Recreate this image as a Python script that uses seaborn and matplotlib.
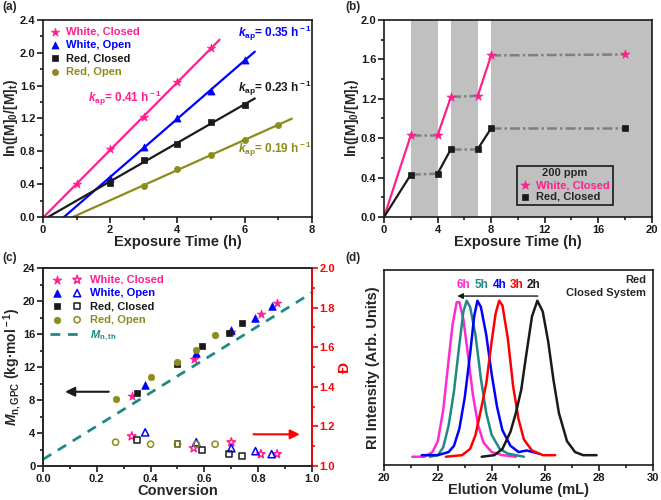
import numpy as np
import matplotlib
matplotlib.use("Agg")
import matplotlib.pyplot as plt
import seaborn as sns
from matplotlib.legend_handler import HandlerTuple
from matplotlib.ticker import MultipleLocator

# ---- (a) first-order kinetics ----
t_wc = [1, 2, 3, 4, 5]
y_wc = [0.40, 0.83, 1.22, 1.64, 2.06]
t_wo = [2, 3, 4, 5, 6]
y_wo = [0.48, 0.85, 1.21, 1.54, 1.91]
t_rc = [2, 3, 4, 5, 6]
y_rc = [0.42, 0.69, 0.89, 1.16, 1.36]
t_ro = [3, 4, 5, 6, 7]
y_ro = [0.38, 0.58, 0.76, 0.94, 1.12]
k_ap = ["0.41", "0.35", "0.23", "0.19"]
fit_end = [5.25, 6.3, 6.3, 7.4]

# ---- (b) light on/off ----
t_b = [0, 2, 4, 5, 7, 8, 18]
y_b_white = [0.0, 0.83, 0.83, 1.22, 1.23, 1.64, 1.65]
y_b_red = [0.0, 0.43, 0.44, 0.69, 0.69, 0.90, 0.90]
dark_periods = [(2, 4), (5, 7), (8, 20)]

# ---- (c) Mn and dispersity vs conversion ----
conv_wc = [0.33, 0.56, 0.70, 0.81, 0.87]
mn_wc = [8.5, 13.0, 16.3, 18.4, 19.8]
d_wc = [1.15, 1.09, 1.12, 1.06, 1.06]
conv_wo = [0.38, 0.57, 0.70, 0.79, 0.85]
mn_wo = [9.8, 13.7, 16.5, 17.9, 19.4]
d_wo = [1.17, 1.12, 1.09, 1.075, 1.06]
conv_rc = [0.35, 0.50, 0.59, 0.69, 0.74]
mn_rc = [8.8, 12.4, 14.6, 16.1, 17.3]
d_rc = [1.13, 1.11, 1.08, 1.06, 1.05]
conv_ro = [0.27, 0.40, 0.50, 0.57, 0.64]
mn_ro = [8.1, 10.8, 12.6, 14.1, 15.9]
d_ro = [1.12, 1.11, 1.11, 1.11, 1.11]
conv_th = [0.0, 1.0]
mn_th = [0.8, 21.0]

# ---- (d) GPC traces ----
v_6h = [21.05, 21.5, 21.8, 22.0, 22.2, 22.4, 22.55, 22.7, 22.8, 22.95, 23.1, 23.3, 23.5, 23.7, 24.0, 24.4, 24.9]
i_6h = [0.0, 0.0, 0.03, 0.10, 0.30, 0.62, 0.85, 0.99, 0.99, 0.88, 0.68, 0.40, 0.20, 0.09, 0.03, 0.01, 0.0]
v_5h = [21.7, 22.0, 22.2, 22.4, 22.6, 22.8, 22.95, 23.07, 23.2, 23.4, 23.6, 23.8, 24.0, 24.3, 24.6, 25.2]
i_5h = [0.0, 0.01, 0.06, 0.20, 0.42, 0.72, 0.93, 1.0, 0.96, 0.78, 0.50, 0.28, 0.14, 0.05, 0.02, 0.0]
v_4h = [21.4, 22.0, 22.4, 22.6, 22.8, 23.0, 23.2, 23.35, 23.47, 23.6, 23.8, 24.0, 24.2, 24.4, 24.7, 25.0, 25.3, 25.76]
i_4h = [0.01, 0.01, 0.03, 0.07, 0.18, 0.38, 0.66, 0.90, 1.0, 0.96, 0.78, 0.53, 0.32, 0.17, 0.07, 0.03, 0.04, 0.02]
v_3h = [22.3, 22.9, 23.2, 23.4, 23.6, 23.8, 24.0, 24.15, 24.28, 24.4, 24.6, 24.8, 25.0, 25.2, 25.5, 25.9, 26.36]
i_3h = [0.0, 0.01, 0.05, 0.14, 0.30, 0.47, 0.74, 0.92, 1.0, 0.97, 0.76, 0.45, 0.24, 0.11, 0.04, 0.01, 0.01]
v_2h = [23.63, 24.1, 24.4, 24.7, 24.9, 25.1, 25.3, 25.5, 25.7, 25.9, 26.1, 26.3, 26.5, 26.8, 27.1, 27.4, 27.9]
i_2h = [0.0, 0.01, 0.05, 0.16, 0.28, 0.43, 0.67, 0.90, 1.0, 0.93, 0.74, 0.49, 0.28, 0.10, 0.03, 0.01, 0.01]
gpc_labels = ["6h", "5h", "4h", "3h", "2h"]
gpc_label_x = [22.94, 23.63, 24.31, 24.92, 25.56]

PINK = "#FF1F8E"
BLUE = "#0000FF"
OLIVE = "#8C8C1C"
TEAL = "#1F8A84"
MAG = "#FF2AD4"
GREY = "#C0C0C0"

sns.set_theme(style="ticks")
plt.rcParams["font.family"] = ["Liberation Sans", "DejaVu Sans"]
plt.rcParams.update({
    "font.weight": "bold",
    "axes.labelweight": "bold",
    "mathtext.fontset": "custom",
    "mathtext.rm": "Liberation Sans:bold",
    "mathtext.it": "Liberation Sans:italic:bold",
    "mathtext.bf": "Liberation Sans:bold",
    "mathtext.default": "rm",
})


def style(ax, xmaj, ymaj, yticks=True):
    ax.xaxis.set_major_locator(MultipleLocator(xmaj))
    ax.xaxis.set_minor_locator(MultipleLocator(xmaj / 2))
    if yticks:
        ax.yaxis.set_major_locator(MultipleLocator(ymaj))
        ax.yaxis.set_minor_locator(MultipleLocator(ymaj / 2))
    ax.tick_params(which="both", direction="out", top=False, right=False,
                   width=1.2, labelsize=8, pad=1.5, colors="k")
    ax.tick_params(which="major", length=4)
    ax.tick_params(which="minor", length=2)
    for s in ax.spines.values():
        s.set_linewidth(1.2)
        s.set_color("k")


fig = plt.figure(figsize=(6.61, 5.0), dpi=100)
ax_a = fig.add_axes([0.065, 0.566, 0.407, 0.394])
ax_b = fig.add_axes([0.581, 0.566, 0.405, 0.394])
ax_c = fig.add_axes([0.065, 0.068, 0.407, 0.396])
ax_d = fig.add_axes([0.581, 0.070, 0.407, 0.390])

# ---------------- (a) ----------------
series_a = [
    ("White, Closed", t_wc, y_wc, "*", PINK, 40),
    ("White, Open", t_wo, y_wo, "^", BLUE, 26),
    ("Red, Closed", t_rc, y_rc, "s", "k", 18),
    ("Red, Open", t_ro, y_ro, "o", OLIVE, 20),
]
for (lab, t, y, mk, col, sz), x_end in zip(series_a, fit_end):
    m, b = np.polyfit(t, y, 1)
    xs = np.array([-b / m, x_end])
    sns.lineplot(x=xs, y=m * xs + b, color=col, lw=1.6, ax=ax_a)
    sns.scatterplot(x=t, y=y, marker=mk, s=sz, color=col, edgecolor=col,
                    linewidth=0.5, label=lab, ax=ax_a, zorder=3)
kap_pos = [(1.35, 1.45), (5.8, 2.24), (5.8, 1.57), (5.8, 0.82)]
for (lab, t, y, mk, col, sz), k, (tx, ty) in zip(series_a, k_ap, kap_pos):
    ax_a.text(tx, ty, r"$\mathit{k}_{\rm ap}$= " + k + r" h$^{\rm -1}$",
              color=col, fontsize=8.5, va="center", ha="left")
leg = ax_a.legend(loc="upper left", frameon=False, fontsize=8, handlelength=1.0,
                  handletextpad=0.5, labelspacing=0.3, borderaxespad=0.2)
for txt, s in zip(leg.get_texts(), series_a):
    txt.set_color(s[4])
ax_a.set_xlim(0, 8)
ax_a.set_ylim(0, 2.4)
style(ax_a, 2, 0.4)
ax_a.set_xlabel("Exposure Time (h)", fontsize=10.5, labelpad=0)
ax_a.set_ylabel(r"ln([M]$_{\rm 0}$/[M]$_{\rm t}$)", fontsize=10, labelpad=0)

# ---------------- (b) ----------------
for a, b in dark_periods:
    ax_b.axvspan(a, b, color=GREY, lw=0, zorder=0)
for i in range(len(t_b) - 1):
    seg = t_b[i:i + 2]
    dark = any(a <= seg[0] < b for a, b in dark_periods)
    for yy, col in [(y_b_white, PINK), (y_b_red, "k")]:
        if dark:
            sns.lineplot(x=seg, y=yy[i:i + 2], color="#7F7F7F", lw=1.8,
                         linestyle=(0, (4, 1.2, 1, 1.2)), ax=ax_b)
        else:
            sns.lineplot(x=seg, y=yy[i:i + 2], color=col, lw=1.6, ax=ax_b)
sns.scatterplot(x=t_b[1:], y=y_b_white[1:], marker="*", s=45, color=PINK,
                edgecolor=PINK, linewidth=0.5, label="White, Closed", ax=ax_b, zorder=3)
sns.scatterplot(x=t_b[1:], y=y_b_red[1:], marker="s", s=20, color="k",
                edgecolor="k", linewidth=0.5, label="Red, Closed", ax=ax_b, zorder=3)
leg = ax_b.legend(loc="lower right", bbox_to_anchor=(0.875, 0.035), fontsize=8,
                  title="200 ppm", title_fontproperties={"weight": "bold", "size": 8},
                  frameon=True, fancybox=False, facecolor=GREY, edgecolor="k",
                  framealpha=1, handlelength=1.0, handletextpad=0.5,
                  labelspacing=0.15, borderpad=0.25)
leg.get_frame().set_linewidth(1.2)
leg.get_texts()[0].set_color(PINK)
ax_b.set_xlim(0, 20)
ax_b.set_ylim(0, 2.0)
style(ax_b, 4, 0.4)
ax_b.set_xlabel("Exposure Time (h)", fontsize=10.5, labelpad=0)
ax_b.set_ylabel(r"ln([M]$_{\rm 0}$/[M]$_{\rm t}$)", fontsize=10, labelpad=0)

# ---------------- (c) ----------------
ax_c2 = ax_c.twinx()
series_c = [
    ("White, Closed", conv_wc, mn_wc, d_wc, "*", PINK, 45),
    ("White, Open", conv_wo, mn_wo, d_wo, "^", BLUE, 30),
    ("Red, Closed", conv_rc, mn_rc, d_rc, "s", "k", 20),
    ("Red, Open", conv_ro, mn_ro, d_ro, "o", OLIVE, 22),
]
handles, labels = [], []
for lab, cv, mn, dd, mk, col, sz in series_c:
    sns.scatterplot(x=cv, y=mn, marker=mk, s=sz, color=col, edgecolor=col,
                    linewidth=0.5, ax=ax_c, zorder=3)
    h_fill = ax_c.collections[-1]
    sns.scatterplot(x=cv, y=dd, marker=mk, s=sz * 0.9, facecolor="none", edgecolor=col,
                    linewidth=1.1, ax=ax_c2, zorder=3)
    h_open = ax_c2.collections[-1]
    handles.append((h_fill, h_open))
    labels.append(lab)
sns.lineplot(x=conv_th, y=mn_th, color=TEAL, lw=2, linestyle=(0, (3.5, 2.8)), ax=ax_c)
handles.append(ax_c.lines[-1])
labels.append(r"$\mathit{M}_{\rm n,th}$")
leg = ax_c2.legend(handles, labels, handler_map={tuple: HandlerTuple(ndivide=None, pad=0.6)},
                   loc="upper left", frameon=False, fontsize=8, handlelength=3.1,
                   handletextpad=0.5, labelspacing=0.3, borderaxespad=0.2)
for txt, col in zip(leg.get_texts(), [PINK, BLUE, "k", OLIVE, TEAL]):
    txt.set_color(col)
ax_c.annotate("", xy=(0.072, 9.0), xytext=(0.255, 9.0),
              arrowprops=dict(arrowstyle="-|>", color="k", lw=1.5, mutation_scale=14))
ax_c.annotate("", xy=(0.965, 3.84), xytext=(0.772, 3.84),
              arrowprops=dict(arrowstyle="-|>", color="red", lw=1.5, mutation_scale=14))
ax_c.set_xlim(0, 1.0)
ax_c.set_ylim(0, 24)
style(ax_c, 0.2, 4)
ax_c2.set_ylim(1.0, 2.0)
ax_c2.yaxis.set_major_locator(MultipleLocator(0.2))
ax_c2.yaxis.set_minor_locator(MultipleLocator(0.1))
ax_c2.tick_params(which="both", direction="out", left=False, right=True,
                  labelright=True, width=1.2, labelsize=8, pad=1.5, colors="red")
ax_c2.tick_params(which="major", length=4)
ax_c2.tick_params(which="minor", length=2)
for s in ax_c2.spines.values():
    s.set_linewidth(1.2)
ax_c2.spines["right"].set_color("red")
ax_c2.set_ylabel("Đ", color="red", fontsize=11, labelpad=2)
ax_c.set_xlabel("Conversion", fontsize=10.5, labelpad=0)
ax_c.set_ylabel(r"$\mathit{M}_{\rm n,GPC}$ (kg·mol$^{\rm -1}$)", fontsize=10, labelpad=0)

# ---------------- (d) ----------------
gpc = [(v_6h, i_6h, MAG), (v_5h, i_5h, TEAL), (v_4h, i_4h, BLUE),
       (v_3h, i_3h, "red"), (v_2h, i_2h, "k")]
for v, inten, col in gpc:
    sns.lineplot(x=v, y=inten, color=col, lw=1.8, ax=ax_d)
for lab, x, (_, _, col) in zip(gpc_labels, gpc_label_x, gpc):
    ax_d.text(x, 1.10, lab, color=col, fontsize=8.5, ha="center", va="center")
ax_d.annotate("", xy=(22.62, 1.03), xytext=(25.82, 1.03),
              arrowprops=dict(arrowstyle="-|>", color="k", lw=1.0, mutation_scale=8))
ax_d.text(0.975, 0.975, "Red\nClosed System", transform=ax_d.transAxes,
          ha="right", va="top", fontsize=8, multialignment="right", linespacing=1.4)
ax_d.set_xlim(20, 30)
ax_d.set_ylim(-0.053, 1.197)
style(ax_d, 2, 1, yticks=False)
ax_d.set_yticks([])
ax_d.set_xlabel("Elution Volume (mL)", fontsize=10.5, labelpad=0)
ax_d.set_ylabel("RI Intensity (Arb. Units)", fontsize=10.5, labelpad=3)

for lab, x, y in [("(a)", 0.004, 0.998), ("(b)", 0.523, 0.998),
                  ("(c)", 0.004, 0.497), ("(d)", 0.523, 0.497)]:
    fig.text(x, y, lab, fontsize=8.5, ha="left", va="top")

fig.savefig("out.png", dpi=100)
